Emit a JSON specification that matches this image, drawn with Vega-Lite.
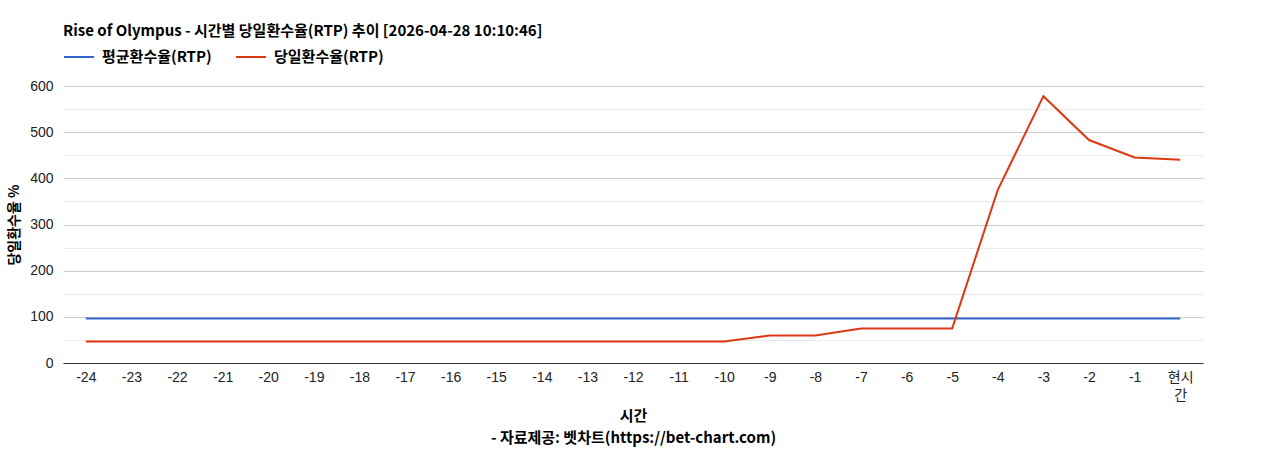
{
  "$schema": "https://vega.github.io/schema/vega-lite/v6.json",
  "width": 1140,
  "height": 277,
  "autosize": "none",
  "padding": {"left": 63, "top": 86, "right": 65, "bottom": 87},
  "background": "white",
  "config": {
    "font": "Liberation Sans, Noto Sans CJK KR",
    "view": {"stroke": null}
  },
  "title": {
    "text": "Rise of Olympus - 시간별 당일환수율(RTP) 추이 [2026-04-28 10:10:46]",
    "anchor": "start",
    "frame": "group",
    "font": "Noto Sans CJK KR",
    "fontSize": 15,
    "fontWeight": "bold",
    "color": "#000",
    "offset": 2
  },
  "data": {
    "values": [
      {"hour": "-24", "series": "평균환수율(RTP)", "rtp": 96.5},
      {"hour": "-23", "series": "평균환수율(RTP)", "rtp": 96.5},
      {"hour": "-22", "series": "평균환수율(RTP)", "rtp": 96.5},
      {"hour": "-21", "series": "평균환수율(RTP)", "rtp": 96.5},
      {"hour": "-20", "series": "평균환수율(RTP)", "rtp": 96.5},
      {"hour": "-19", "series": "평균환수율(RTP)", "rtp": 96.5},
      {"hour": "-18", "series": "평균환수율(RTP)", "rtp": 96.5},
      {"hour": "-17", "series": "평균환수율(RTP)", "rtp": 96.5},
      {"hour": "-16", "series": "평균환수율(RTP)", "rtp": 96.5},
      {"hour": "-15", "series": "평균환수율(RTP)", "rtp": 96.5},
      {"hour": "-14", "series": "평균환수율(RTP)", "rtp": 96.5},
      {"hour": "-13", "series": "평균환수율(RTP)", "rtp": 96.5},
      {"hour": "-12", "series": "평균환수율(RTP)", "rtp": 96.5},
      {"hour": "-11", "series": "평균환수율(RTP)", "rtp": 96.5},
      {"hour": "-10", "series": "평균환수율(RTP)", "rtp": 96.5},
      {"hour": "-9", "series": "평균환수율(RTP)", "rtp": 96.5},
      {"hour": "-8", "series": "평균환수율(RTP)", "rtp": 96.5},
      {"hour": "-7", "series": "평균환수율(RTP)", "rtp": 96.5},
      {"hour": "-6", "series": "평균환수율(RTP)", "rtp": 96.5},
      {"hour": "-5", "series": "평균환수율(RTP)", "rtp": 96.5},
      {"hour": "-4", "series": "평균환수율(RTP)", "rtp": 96.5},
      {"hour": "-3", "series": "평균환수율(RTP)", "rtp": 96.5},
      {"hour": "-2", "series": "평균환수율(RTP)", "rtp": 96.5},
      {"hour": "-1", "series": "평균환수율(RTP)", "rtp": 96.5},
      {"hour": "현시간", "series": "평균환수율(RTP)", "rtp": 96.5},
      {"hour": "-24", "series": "당일환수율(RTP)", "rtp": 46.7},
      {"hour": "-23", "series": "당일환수율(RTP)", "rtp": 46.7},
      {"hour": "-22", "series": "당일환수율(RTP)", "rtp": 46.7},
      {"hour": "-21", "series": "당일환수율(RTP)", "rtp": 46.7},
      {"hour": "-20", "series": "당일환수율(RTP)", "rtp": 46.7},
      {"hour": "-19", "series": "당일환수율(RTP)", "rtp": 46.7},
      {"hour": "-18", "series": "당일환수율(RTP)", "rtp": 46.7},
      {"hour": "-17", "series": "당일환수율(RTP)", "rtp": 46.7},
      {"hour": "-16", "series": "당일환수율(RTP)", "rtp": 46.7},
      {"hour": "-15", "series": "당일환수율(RTP)", "rtp": 46.7},
      {"hour": "-14", "series": "당일환수율(RTP)", "rtp": 46.7},
      {"hour": "-13", "series": "당일환수율(RTP)", "rtp": 46.7},
      {"hour": "-12", "series": "당일환수율(RTP)", "rtp": 46.7},
      {"hour": "-11", "series": "당일환수율(RTP)", "rtp": 46.7},
      {"hour": "-10", "series": "당일환수율(RTP)", "rtp": 46.7},
      {"hour": "-9", "series": "당일환수율(RTP)", "rtp": 59.7},
      {"hour": "-8", "series": "당일환수율(RTP)", "rtp": 59.7},
      {"hour": "-7", "series": "당일환수율(RTP)", "rtp": 74.9},
      {"hour": "-6", "series": "당일환수율(RTP)", "rtp": 74.9},
      {"hour": "-5", "series": "당일환수율(RTP)", "rtp": 74.9},
      {"hour": "-4", "series": "당일환수율(RTP)", "rtp": 375},
      {"hour": "-3", "series": "당일환수율(RTP)", "rtp": 578},
      {"hour": "-2", "series": "당일환수율(RTP)", "rtp": 483},
      {"hour": "-1", "series": "당일환수율(RTP)", "rtp": 445},
      {"hour": "현시간", "series": "당일환수율(RTP)", "rtp": 440.5}
    ]
  },
  "layer": [
    {
      "mark": {"type": "line", "strokeOpacity": 0},
      "encoding": {
        "x": {"field": "hour", "type": "nominal", "sort": null},
        "y": {
          "field": "rtp",
          "type": "quantitative",
          "scale": {"domain": [0, 600]},
          "axis": {
            "orient": "left",
            "values": [50, 150, 250, 350, 450, 550],
            "grid": true,
            "gridColor": "#ebebeb",
            "labels": false,
            "ticks": false,
            "domain": false,
            "title": null
          }
        },
        "detail": {"field": "series"}
      }
    },
    {
      "mark": {"type": "line", "strokeWidth": 2},
      "encoding": {
        "x": {
          "field": "hour",
          "type": "nominal",
          "sort": null,
          "axis": {
            "labelAngle": 0,
            "labelAlign": "center",
            "labelBaseline": "top",
            "labelFontSize": 14,
            "labelColor": "#222",
            "labelPadding": 7,
            "labelLineHeight": 18,
            "labelExpr": "datum.label == '현시간' ? ['현시', '간'] : datum.label",
            "ticks": false,
            "domainColor": "#333",
            "domainWidth": 1,
            "title": ["시간", "- 자료제공: 벳차트(https://bet-chart.com)"],
            "titleFont": "Noto Sans CJK KR",
            "titleFontSize": 15,
            "titleFontWeight": "bold",
            "titleColor": "#000",
            "titleLineHeight": 22,
            "titlePadding": 6
          }
        },
        "y": {
          "field": "rtp",
          "type": "quantitative",
          "scale": {"domain": [0, 600]},
          "axis": {
            "orient": "left",
            "values": [0, 100, 200, 300, 400, 500, 600],
            "grid": true,
            "gridColor": "#cccccc",
            "labelFontSize": 14,
            "labelColor": "#222",
            "labelPadding": 10,
            "ticks": false,
            "domain": false,
            "title": "당일환수율 %",
            "titleFont": "Noto Sans CJK KR",
            "titleFontSize": 14,
            "titleFontWeight": "bold",
            "titleColor": "#000",
            "titlePadding": 8
          }
        },
        "color": {
          "field": "series",
          "type": "nominal",
          "scale": {
            "domain": ["평균환수율(RTP)", "당일환수율(RTP)"],
            "range": ["#3366cc", "#dc3912"]
          },
          "legend": {
            "orient": "none",
            "legendX": 0,
            "legendY": -45,
            "direction": "horizontal",
            "title": null,
            "symbolType": "stroke",
            "symbolSize": 900,
            "symbolStrokeWidth": 2,
            "labelFont": "Noto Sans CJK KR",
            "labelFontSize": 15,
            "labelFontWeight": "bold",
            "labelColor": "#000",
            "labelOffset": 7,
            "columnPadding": 20
          }
        }
      }
    }
  ],
  "resolve": {"axis": {"y": "independent"}}
}
